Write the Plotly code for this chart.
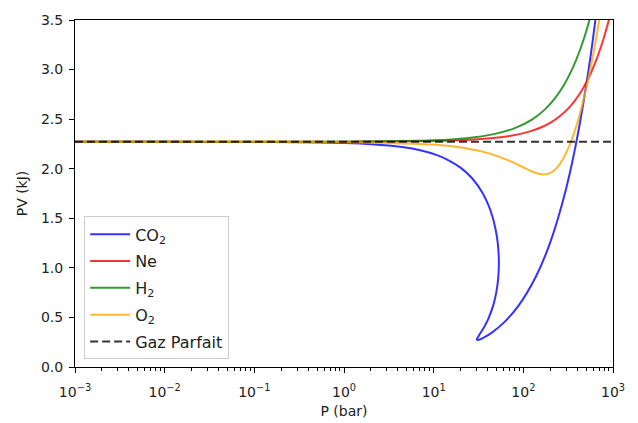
import plotly.graph_objects as go

# Values (P in bar, PV in kJ)
co2_p = [0.001, 0.01, 0.1, 0.3, 1.0, 2.04, 4.44, 7.28, 10.69, 13.97, 20.08, 27.12,
         35.10, 40.81, 45.62, 49.26, 51.90, 53.18, 53.32, 52.41, 49.82, 46.25, 40.91,
         36.48, 32.14, 30.68, 30.33, 30.46, 31.41, 32.71, 36.11, 44.53, 60.18, 88.13,
         137.8, 200.0, 299.4, 399.5, 543.1, 638.6, 756.2]
co2_pv = [2.271, 2.271, 2.270, 2.268, 2.259, 2.247, 2.218, 2.183, 2.139, 2.095, 2.008, 1.899,
          1.755, 1.632, 1.505, 1.379, 1.246, 1.117, 1.013, 0.891, 0.747, 0.624, 0.491,
          0.401, 0.321, 0.291, 0.279, 0.274, 0.273, 0.278, 0.296, 0.347, 0.445, 0.617,
          0.910, 1.260, 1.796, 2.317, 3.041, 3.512, 4.080]

ne_p = [0.001, 0.01, 0.1, 1.0, 10.0, 22.89, 46.18, 77.90, 118.8, 161.4, 205.9, 252.6,
        327.7, 423.5, 528.5, 642.1, 761.1, 857.9, 938.3]
ne_pv = [2.271, 2.271, 2.271, 2.272, 2.279, 2.289, 2.309, 2.337, 2.377, 2.421, 2.470, 2.526,
         2.621, 2.753, 2.907, 3.082, 3.273, 3.431, 3.565]

h2_p = [0.001, 0.01, 0.1, 1.0, 10.0, 23.08, 46.99, 80.32, 124.8, 173.1, 226.0, 284.7,
        354.7, 425.3, 495.2, 547.0, 577.3]
h2_pv = [2.271, 2.271, 2.271, 2.273, 2.287, 2.308, 2.349, 2.410, 2.496, 2.596, 2.712, 2.847,
         3.015, 3.190, 3.367, 3.501, 3.579]

o2_p = [0.001, 0.01, 0.1, 1.0, 9.89, 22.08, 43.00, 69.38, 100.6, 131.0, 161.9, 195.4,
        236.4, 281.1, 338.8, 394.3, 458.2, 524.7, 616.4, 698.7, 748.8]
o2_pv = [2.271, 2.271, 2.271, 2.268, 2.243, 2.208, 2.150, 2.081, 2.012, 1.964, 1.943, 1.953,
         2.009, 2.108, 2.270, 2.445, 2.658, 2.886, 3.205, 3.494, 3.669]

ideal_p = [0.001, 1000.0]
ideal_pv = [2.271, 2.271]

x_tickvals = [0.001, 0.01, 0.1, 1, 10, 100, 1000]
x_ticktext = ["10<sup>\u22123</sup>", "10<sup>\u22122</sup>", "10<sup>\u22121</sup>",
              "10<sup>0</sup>", "10<sup>1</sup>", "10<sup>2</sup>", "10<sup>3</sup>"]

names = ["CO<sub>2</sub>", "Ne", "H<sub>2</sub>", "O<sub>2</sub>"]
colors = ["rgba(0,0,255,0.8)", "rgba(255,0,0,0.8)", "rgba(0,128,0,0.8)", "rgba(255,165,0,0.8)"]
series = [(co2_p, co2_pv), (ne_p, ne_pv), (h2_p, h2_pv), (o2_p, o2_pv)]

fig = go.Figure()
for i, ((xs, ys), name, col) in enumerate(zip(series, names, colors)):
    fig.add_trace(go.Scatter(x=xs, y=ys, mode="lines", name=name, legendgroup=f"g{i}",
                             line=dict(color=col, width=2, shape="spline", smoothing=0.8)))
fig.add_trace(go.Scatter(x=ideal_p, y=ideal_pv, mode="lines", name="Gaz Parfait",
                         legendgroup="g9",
                         line=dict(color="rgba(0,0,0,0.8)", width=2, dash="8px,4px")))

font = dict(family="DejaVu Sans", size=14, color="#222222")
# page body adds an 8px offset; figure sized to fit the 638x423 window
fig.update_layout(
    width=630, height=415,
    margin=dict(l=67, r=25, t=12, b=56),
    paper_bgcolor="white", plot_bgcolor="white",
    font=font,
    showlegend=True,
    legend=dict(x=0.017, y=0.022, xanchor="left", yanchor="bottom",
                bgcolor="rgba(255,255,255,0.8)", bordercolor="#cccccc", borderwidth=1,
                tracegroupgap=3, itemwidth=40,
                font=dict(family="DejaVu Sans", size=16, color="#222222")),
)
fig.update_xaxes(type="log", range=[-3, 3], tickvals=x_tickvals, ticktext=x_ticktext,
                 automargin=False, ticklabelstandoff=7,
                 showgrid=False, zeroline=False,
                 showline=True, linecolor="black", linewidth=1, mirror=True,
                 ticks="outside", ticklen=5, tickwidth=1, tickcolor="black",
                 minor=dict(ticks="outside", ticklen=3, tickwidth=1, tickcolor="black",
                            dtick="D1", showgrid=False),
                 title=dict(text="P (bar)", font=font, standoff=7))
fig.update_yaxes(range=[0, 3.5], dtick=0.5, tickformat=".1f",
                 automargin=False, ticklabelstandoff=3,
                 showgrid=False, zeroline=False,
                 showline=True, linecolor="black", linewidth=1, mirror=True,
                 ticks="outside", ticklen=5, tickwidth=1, tickcolor="black",
                 title=dict(text="PV (kJ)", font=font, standoff=10))

fig.write_html("out.html")
